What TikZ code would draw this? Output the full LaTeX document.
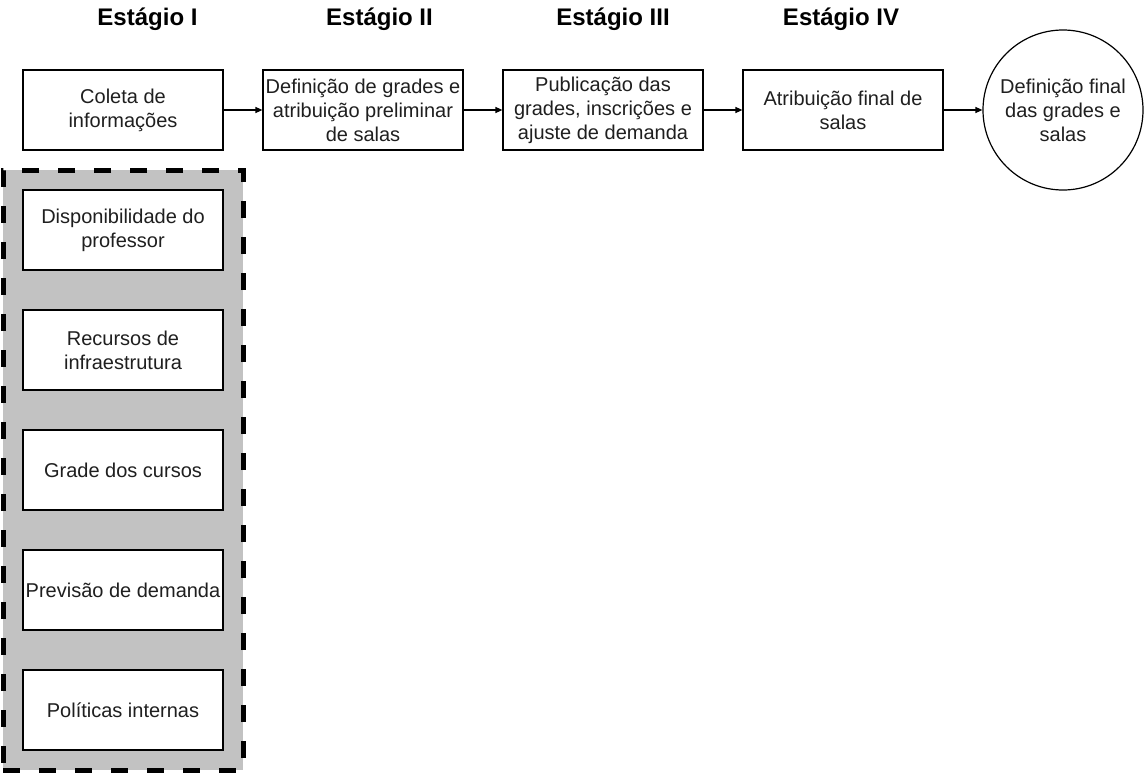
\documentclass[tikz,border=0pt]{standalone}
\usepackage{fontspec}
\setmainfont{Liberation Sans}
\usetikzlibrary{arrows.meta}
\begin{document}
\begin{tikzpicture}[x=1pt,y=-1pt,
  box/.style={draw=black,fill=white,line width=1.2pt,minimum width=200pt,minimum height=80pt,inner sep=0pt,align=center,font=\fontsize{20}{24}\selectfont,text=black!88},
  stage/.style={anchor=base,font=\bfseries\fontsize{24}{28}\selectfont,text=black},
  circ/.style={draw=black,fill=white,line width=1.2pt,circle,minimum size=160pt,inner sep=0pt,align=center,font=\fontsize{20}{24}\selectfont,text=black!88},
  conn/.style={-{Triangle[length=7pt,width=6pt]},line width=1.2pt}
]
\useasboundingbox (0,0) rectangle (1144,774);
\node[stage] (s1) at (147.5,25) {Estágio I};
\node[stage] (s2) at (379.5,25) {Estágio II};
\node[stage] (s3) at (613,25) {Estágio III};
\node[stage] (s4) at (841,25) {Estágio IV};

\node[box] (b1) at (123,110) {Coleta de\\informações};
\node[box] (b2) at (363,110) {Definição de grades e\\atribuição preliminar\\de salas};
\node[box] (b3) at (603,110) {Publicação das\\grades, inscrições e\\ajuste de demanda};
\node[box] (b4) at (843,110) {Atribuição final de\\salas};
\node[circ] (c) at (1063,110) {Definição final\\das grades e\\salas};

\draw[conn] (b1) -- (b2);
\draw[conn] (b2) -- (b3);
\draw[conn] (b3) -- (b4);
\draw[conn] (b4) -- (c);

\node[draw=black,fill=black!24,line width=5pt,dash pattern=on 17pt off 19pt,minimum width=240pt,minimum height=600pt,inner sep=0pt] (grp) at (123,470) {};

\node[box] (i1) at (123,230) {Disponibilidade do\\professor};
\node[box] (i2) at (123,350) {Recursos de\\infraestrutura};
\node[box] (i3) at (123,470) {Grade dos cursos};
\node[box] (i4) at (123,590) {Previsão de demanda};
\node[box] (i5) at (123,710) {Políticas internas};
\end{tikzpicture}
\end{document}
